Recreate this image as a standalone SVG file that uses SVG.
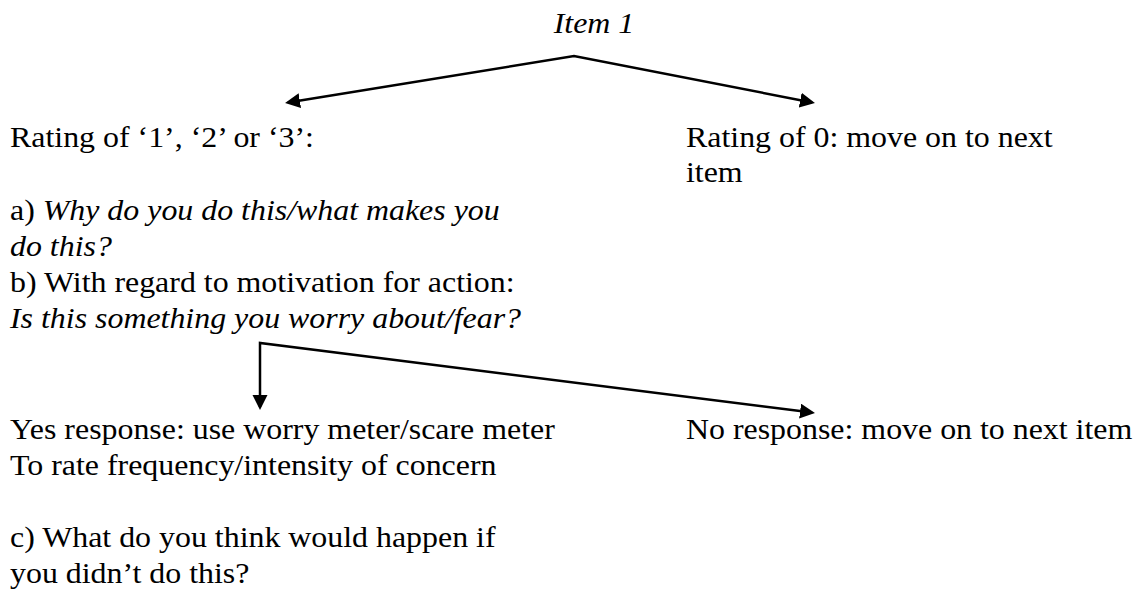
<svg xmlns="http://www.w3.org/2000/svg" width="1141" height="592" viewBox="0 0 1141 592">
<style>
  text { font-family: "Liberation Serif", "Times New Roman", serif; font-size: 29px; fill: #000; }
  .it { font-style: italic; }
  .conn { fill: none; stroke: #000; stroke-width: 2.5; stroke-linejoin: miter; }
</style>
<defs>
  <marker id="ah" markerUnits="userSpaceOnUse" markerWidth="16" markerHeight="16" refX="12" refY="7.5" orient="auto-start-reverse">
    <path d="M0,0 L15,7.5 L0,15 z" fill="#000"/>
  </marker>
</defs>
<rect width="1141" height="592" fill="#fff"/>
<g id="connectors">
  <path class="conn" d="M288,102.5 L574,56 L812,102.4" marker-start="url(#ah)" marker-end="url(#ah)"/>
  <path class="conn" d="M260,407 L260,343 L812,412.6" marker-start="url(#ah)" marker-end="url(#ah)"/>
</g>
<g id="node-item1">
  <text class="it" transform="translate(594,33) scale(1.1 1)" text-anchor="middle">Item 1</text>
</g>
<g id="node-rating123">
  <text transform="translate(10,147) scale(1.1 1)">Rating of ‘1’, ‘2’ or ‘3’:</text>
  <text transform="translate(10,220) scale(1.1 1)">a) <tspan class="it">Why do you do this/what makes you</tspan></text>
  <text class="it" transform="translate(10,256) scale(1.1 1)">do this?</text>
  <text transform="translate(10,292) scale(1.1 1)">b) With regard to motivation for action:</text>
  <text class="it" transform="translate(10,328) scale(1.1 1)">Is this something you worry about/fear?</text>
</g>
<g id="node-rating0">
  <text transform="translate(686,147) scale(1.1 1)">Rating of 0: move on to next</text>
  <text transform="translate(686,182) scale(1.1 1)">item</text>
</g>
<g id="node-yes">
  <text transform="translate(10,439) scale(1.1 1)">Yes response: use worry meter/scare meter</text>
  <text transform="translate(10,475) scale(1.1 1)">To rate frequency/intensity of concern</text>
</g>
<g id="node-no">
  <text transform="translate(686,439) scale(1.1 1)">No response: move on to next item</text>
</g>
<g id="node-c">
  <text transform="translate(10,547) scale(1.1 1)">c) What do you think would happen if</text>
  <text transform="translate(10,583) scale(1.1 1)">you didn’t do this?</text>
</g>
</svg>
